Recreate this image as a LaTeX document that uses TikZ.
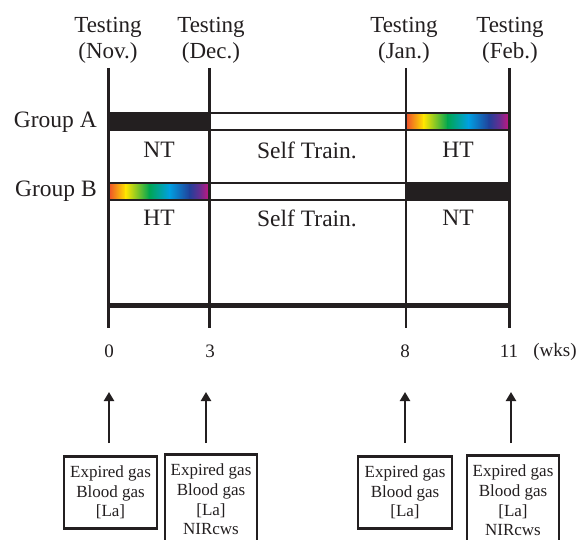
\documentclass[tikz,border=0pt]{standalone}
\usepackage{fontspec}
\setmainfont{Liberation Serif}
\usetikzlibrary{arrows.meta}
\definecolor{ink}{HTML}{231F20}
\definecolor{rbA}{HTML}{EE4E2A}
\definecolor{rbB}{HTML}{FFE600}
\definecolor{rbC}{HTML}{00A651}
\definecolor{rbD}{HTML}{00A0E2}
\definecolor{rbE}{HTML}{21409A}
\definecolor{rbF}{HTML}{662D91}
\definecolor{rbG}{HTML}{D0147F}
\newcommand\rainbowbar[4]{%
  \pgfmathsetmacro\rbw{#2-#1}%
  \foreach \a/\b/\ca/\cb in {0/0.17/rbA/rbB,0.17/0.4/rbB/rbC,0.4/0.6/rbC/rbD,0.6/0.8/rbD/rbE,0.8/0.9/rbE/rbF,0.9/1/rbF/rbG}{%
    \shade[left color=\ca,right color=\cb] ({#1+\a*\rbw},#3) rectangle ({#1+\b*\rbw+0.4},#4);}%
}
\tikzset{
  mainlbl/.style={font=\fontsize{23.5}{27}\selectfont, text=ink, inner sep=0pt},
  testlbl/.style={font=\fontsize{23}{26.5}\selectfont, text=ink, inner sep=0pt, align=center, anchor=south},
  ticklbl/.style={font=\fontsize{19}{22}\selectfont, text=ink, inner sep=0pt},
  vline/.style={draw=ink, line width=2.2pt},
  barline/.style={draw=ink, line width=2.6pt},
  axisline/.style={draw=ink, line width=5pt},
  measbox/.style={draw=ink, line width=2.6pt, fill=white, align=center, anchor=north,
    font=\fontsize{17}{19.8}\selectfont, text=ink, inner sep=0pt, minimum width=93pt},
  uparrow/.style={draw=ink, line width=2.6pt, -{Triangle[width=10pt,length=9pt]}}
}
\begin{document}
\begin{tikzpicture}[x=1pt,y=-1pt]
\useasboundingbox[fill=white] (0,0) rectangle (578,540);

% testing labels
\node[testlbl] (tN) at (108,64) {Testing\\(Nov.)};
\node[testlbl] (tD) at (211,64) {Testing\\(Dec.)};
\node[testlbl] (tJ) at (404,64) {Testing\\(Jan.)};
\node[testlbl] (tF) at (510,64) {Testing\\(Feb.)};

% timeline coordinates
\coordinate (w0top) at (108.5,68);  \coordinate (w0bot) at (108.5,328);
\coordinate (w3top) at (209.5,68);  \coordinate (w3bot) at (209.5,328);
\coordinate (w8top) at (406,68);    \coordinate (w8bot) at (406,328);
\coordinate (w11top) at (509.5,68); \coordinate (w11bot) at (509.5,328);

\draw[vline] (w0top) -- (w0bot);
\draw[vline] (w3top) -- (w3bot);
\draw[vline] (w8top) -- (w8bot);
\draw[vline] (w11top) -- (w11bot);

% Group A bar
\fill[ink] (108.5,113) rectangle (209.5,130);
\draw[barline, fill=white] (209.5,113) rectangle (406,130);
\rainbowbar{406}{509.5}{113}{130}
\draw[barline] (406,113) rectangle (509.5,130);
\draw[barline] (108.5,113) rectangle (209.5,130);

% Group B bar
\rainbowbar{108.5}{209.5}{183}{200}
\draw[barline] (108.5,183) rectangle (209.5,200);
\draw[barline, fill=white] (209.5,183) rectangle (406,200);
\fill[ink] (406,183) rectangle (509.5,200);
\draw[barline] (406,183) rectangle (509.5,200);

% group labels
\node[mainlbl, anchor=east] (gA) at (97,122) {Group A};
\node[mainlbl, anchor=east] (gB) at (97,191) {Group B};

% phase labels
\node[mainlbl] (aNT) at (159,150) {NT};
\node[mainlbl] (aST) at (307,150) {Self Train.};
\node[mainlbl] (aHT) at (458,150) {HT};
\node[mainlbl] (bHT) at (159,218) {HT};
\node[mainlbl] (bST) at (307,218) {Self Train.};
\node[mainlbl] (bNT) at (458,218) {NT};

% axis
\draw[axisline] (108.5,305) -- (509.5,305);
\node[ticklbl] (k0) at (109,351) {0};
\node[ticklbl] (k3) at (210,351) {3};
\node[ticklbl] (k8) at (405,351) {8};
\node[ticklbl] (k11) at (509,351) {11};
\node[ticklbl] (kw) at (555,352) {(wks)};

% measurement boxes
\node[measbox, minimum height=72pt] (b1) at (110.5,455) {Expired gas\\Blood gas\\{[La]}};
\node[measbox, minimum height=90pt, minimum width=92pt] (b2) at (211,453) {Expired gas\\Blood gas\\{[La]}\\NIRcws};
\node[measbox, minimum height=72pt, minimum width=94pt] (b3) at (405,455) {Expired gas\\Blood gas\\{[La]}};
\node[measbox, minimum height=90pt, minimum width=92pt] (b4) at (513,454) {Expired gas\\Blood gas\\{[La]}\\NIRcws};

% arrows
\coordinate (a1s) at (109,443); \coordinate (a1e) at (109,392);
\coordinate (a2s) at (206,443); \coordinate (a2e) at (206,392);
\coordinate (a3s) at (405,443); \coordinate (a3e) at (405,392);
\coordinate (a4s) at (511,443); \coordinate (a4e) at (511,392);
\draw[uparrow] (a1s) -- (a1e);
\draw[uparrow] (a2s) -- (a2e);
\draw[uparrow] (a3s) -- (a3e);
\draw[uparrow] (a4s) -- (a4e);
\end{tikzpicture}
\end{document}
